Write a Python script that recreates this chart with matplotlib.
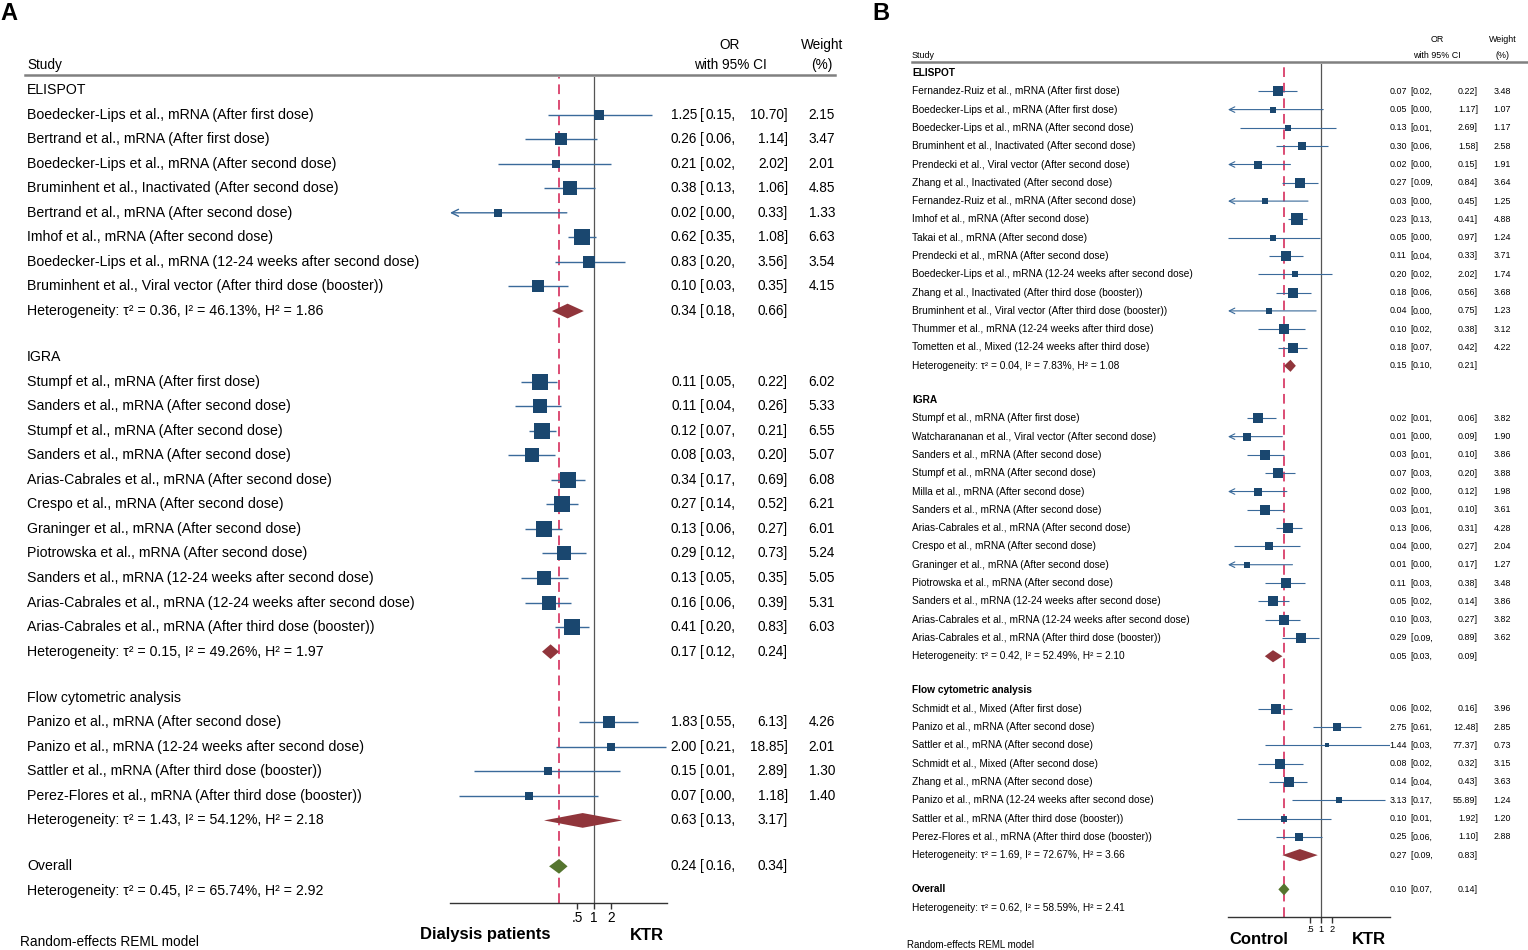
import numpy as np
import matplotlib.pyplot as plt
from matplotlib.lines import Line2D
from matplotlib.ticker import NullLocator
from matplotlib.transforms import blended_transform_factory

plt.rcParams['font.family'] = ['Liberation Sans', 'DejaVu Sans']

W, H = 1528, 950

# ---------------- Panel A: dialysis patients vs KTR ----------------
a_eli_names = ["Boedecker-Lips et al., mRNA (After first dose)",
               "Bertrand et al., mRNA (After first dose)",
               "Boedecker-Lips et al., mRNA (After second dose)",
               "Bruminhent et al., Inactivated (After second dose)",
               "Bertrand et al., mRNA (After second dose)",
               "Imhof et al., mRNA (After second dose)",
               "Boedecker-Lips et al., mRNA (12-24 weeks after second dose)",
               "Bruminhent et al., Viral vector (After third dose (booster))"]
a_eli_or = [1.25, 0.26, 0.21, 0.38, 0.02, 0.62, 0.83, 0.10]
a_eli_lo = [0.15, 0.06, 0.02, 0.13, 0.001, 0.35, 0.20, 0.03]
a_eli_hi = [10.70, 1.14, 2.02, 1.06, 0.33, 1.08, 3.56, 0.35]
a_eli_w = [2.15, 3.47, 2.01, 4.85, 1.33, 6.63, 3.54, 4.15]
a_eli_pool = [0.34, 0.18, 0.66]
a_eli_het = "τ² = 0.36, I² = 46.13%, H² = 1.86"

a_igra_names = ["Stumpf et al., mRNA (After first dose)",
                "Sanders et al., mRNA (After second dose)",
                "Stumpf et al., mRNA (After second dose)",
                "Sanders et al., mRNA (After second dose)",
                "Arias-Cabrales et al., mRNA (After second dose)",
                "Crespo et al., mRNA (After second dose)",
                "Graninger et al., mRNA (After second dose)",
                "Piotrowska et al., mRNA (After second dose)",
                "Sanders et al., mRNA (12-24 weeks after second dose)",
                "Arias-Cabrales et al., mRNA (12-24 weeks after second dose)",
                "Arias-Cabrales et al., mRNA (After third dose (booster))"]
a_igra_or = [0.11, 0.11, 0.12, 0.08, 0.34, 0.27, 0.13, 0.29, 0.13, 0.16, 0.41]
a_igra_lo = [0.05, 0.04, 0.07, 0.03, 0.17, 0.14, 0.06, 0.12, 0.05, 0.06, 0.20]
a_igra_hi = [0.22, 0.26, 0.21, 0.20, 0.69, 0.52, 0.27, 0.73, 0.35, 0.39, 0.83]
a_igra_w = [6.02, 5.33, 6.55, 5.07, 6.08, 6.21, 6.01, 5.24, 5.05, 5.31, 6.03]
a_igra_pool = [0.17, 0.12, 0.24]
a_igra_het = "τ² = 0.15, I² = 49.26%, H² = 1.97"

a_flow_names = ["Panizo et al., mRNA (After second dose)",
                "Panizo et al., mRNA (12-24 weeks after second dose)",
                "Sattler et al., mRNA (After third dose (booster))",
                "Perez-Flores et al., mRNA (After third dose (booster))"]
a_flow_or = [1.83, 2.00, 0.15, 0.07]
a_flow_lo = [0.55, 0.21, 0.0074, 0.004]
a_flow_hi = [6.13, 18.85, 2.89, 1.18]
a_flow_w = [4.26, 2.01, 1.30, 1.40]
a_flow_pool = [0.63, 0.13, 3.17]
a_flow_het = "τ² = 1.43, I² = 54.12%, H² = 2.18"

a_overall = [0.24, 0.16, 0.34]
a_overall_het = "τ² = 0.45, I² = 65.74%, H² = 2.92"

# ---------------- Panel B: control vs KTR ----------------
b_eli_names = ["Fernandez-Ruiz et al., mRNA (After first dose)",
               "Boedecker-Lips et al., mRNA (After first dose)",
               "Boedecker-Lips et al., mRNA (After second dose)",
               "Bruminhent et al., Inactivated (After second dose)",
               "Prendecki et al., Viral vector (After second dose)",
               "Zhang et al., Inactivated (After second dose)",
               "Fernandez-Ruiz et al., mRNA (After second dose)",
               "Imhof et al., mRNA (After second dose)",
               "Takai et al., mRNA (After second dose)",
               "Prendecki et al., mRNA (After second dose)",
               "Boedecker-Lips et al., mRNA (12-24 weeks after second dose)",
               "Zhang et al., Inactivated (After third dose (booster))",
               "Bruminhent et al., Viral vector (After third dose (booster))",
               "Thummer et al., mRNA (12-24 weeks after third dose)",
               "Tometten et al., Mixed (12-24 weeks after third dose)"]
b_eli_or = [0.07, 0.05, 0.13, 0.30, 0.02, 0.27, 0.03, 0.23, 0.05, 0.11, 0.20, 0.18, 0.04, 0.10, 0.18]
b_eli_lo = [0.02, 0.001, 0.0063, 0.06, 0.001, 0.09, 0.001, 0.13, 0.0030, 0.04, 0.02, 0.06, 0.001, 0.02, 0.07]
b_eli_hi = [0.22, 1.17, 2.69, 1.58, 0.15, 0.84, 0.45, 0.41, 0.97, 0.33, 2.02, 0.56, 0.75, 0.38, 0.42]
b_eli_w = [3.48, 1.07, 1.17, 2.58, 1.91, 3.64, 1.25, 4.88, 1.24, 3.71, 1.74, 3.68, 1.23, 3.12, 4.22]
b_eli_pool = [0.15, 0.10, 0.21]
b_eli_het = "τ² = 0.04, I² = 7.83%, H² = 1.08"

b_igra_names = ["Stumpf et al., mRNA (After first dose)",
                "Watcharananan et al., Viral vector (After second dose)",
                "Sanders et al., mRNA (After second dose)",
                "Stumpf et al., mRNA (After second dose)",
                "Milla et al., mRNA (After second dose)",
                "Sanders et al., mRNA (After second dose)",
                "Arias-Cabrales et al., mRNA (After second dose)",
                "Crespo et al., mRNA (After second dose)",
                "Graninger et al., mRNA (After second dose)",
                "Piotrowska et al., mRNA (After second dose)",
                "Sanders et al., mRNA (12-24 weeks after second dose)",
                "Arias-Cabrales et al., mRNA (12-24 weeks after second dose)",
                "Arias-Cabrales et al., mRNA (After third dose (booster))"]
b_igra_or = [0.02, 0.01, 0.03, 0.07, 0.02, 0.03, 0.13, 0.04, 0.01, 0.11, 0.05, 0.10, 0.29]
b_igra_lo = [0.01, 0.001, 0.01, 0.03, 0.001, 0.01, 0.06, 0.0043, 0.001, 0.03, 0.02, 0.03, 0.09]
b_igra_hi = [0.06, 0.09, 0.10, 0.20, 0.12, 0.10, 0.31, 0.27, 0.17, 0.38, 0.14, 0.27, 0.89]
b_igra_w = [3.82, 1.90, 3.86, 3.88, 1.98, 3.61, 4.28, 2.04, 1.27, 3.48, 3.86, 3.82, 3.62]
b_igra_pool = [0.05, 0.03, 0.09]
b_igra_het = "τ² = 0.42, I² = 52.49%, H² = 2.10"

b_flow_names = ["Schmidt et al., Mixed (After first dose)",
                "Panizo et al., mRNA (After second dose)",
                "Sattler et al., mRNA (After second dose)",
                "Schmidt et al., Mixed (After second dose)",
                "Zhang et al., mRNA (After second dose)",
                "Panizo et al., mRNA (12-24 weeks after second dose)",
                "Sattler et al., mRNA (After third dose (booster))",
                "Perez-Flores et al., mRNA (After third dose (booster))"]
b_flow_or = [0.06, 2.75, 1.44, 0.08, 0.14, 3.13, 0.10, 0.25]
b_flow_lo = [0.02, 0.61, 0.03, 0.02, 0.04, 0.17, 0.0052, 0.06]
b_flow_hi = [0.16, 12.48, 77.37, 0.32, 0.43, 55.89, 1.92, 1.10]
b_flow_w = [3.96, 2.85, 0.73, 3.15, 3.63, 1.24, 1.20, 2.88]
b_flow_pool = [0.27, 0.09, 0.83]
b_flow_het = "τ² = 1.69, I² = 72.67%, H² = 3.66"

b_overall = [0.10, 0.07, 0.14]
b_overall_het = "τ² = 0.62, I² = 58.59%, H² = 2.41"

group_titles = ["ELISPOT", "IGRA", "Flow cytometric analysis"]

SQ_COL = '#1a476f'
CI_COL = '#3a6a9a'
SUB_COL = '#90353b'
ALL_COL = '#55752f'
REF_COL = '#dc4c74'
GAP = 1.87


def fx(px):
    return px / W


def fy(py):
    return 1 - py / H


fig = plt.figure(figsize=(W / 100, H / 100), dpi=100)


def make_groups(prefix):
    g = globals()
    out = []
    for title, key in zip(group_titles, ['eli', 'igra', 'flow']):
        out.append(dict(title=title,
                        names=g[f'{prefix}_{key}_names'], est=g[f'{prefix}_{key}_or'],
                        lo=g[f'{prefix}_{key}_lo'], hi=g[f'{prefix}_{key}_hi'],
                        w=g[f'{prefix}_{key}_w'], pool=g[f'{prefix}_{key}_pool'],
                        het=g[f'{prefix}_{key}_het']))
    return out


def forest(groups, overall, overall_het, xlim, c):
    left, right, top, bottom = c['box']
    r0, step = c['rows']
    ax = fig.add_axes([fx(left), fy(bottom), (right - left) / W, (bottom - top) / H])
    ax.patch.set_alpha(0)
    ax.set_xscale('log')
    ax.set_xlim(*xlim)
    ax.set_ylim((bottom - r0) / step, (top - r0) / step)
    tr = blended_transform_factory(fig.transFigure, ax.transData)

    ax.axvline(1, color='#555555', lw=0.9, zorder=1)
    ax.axvline(overall[0], color=REF_COL, lw=1.4, ls=(0, (5, 3)), zorder=1)

    def label(y, s, bold=False):
        ax.text(fx(c['x_study']), y, s, transform=tr, ha='left', va='center',
                fontsize=c['fs'], fontweight='bold' if bold else 'normal')

    def ci_text(y, est, lo, hi, w=None):
        fs = c['fs_num']
        ax.text(fx(c['x_est']), y, f"{est:.2f}", transform=tr, ha='right', va='center', fontsize=fs)
        ax.text(fx(c['x_br']), y, "[", transform=tr, ha='left', va='center', fontsize=fs)
        ax.text(fx(c['x_lo']), y, f"{lo:.2f},", transform=tr, ha='right', va='center', fontsize=fs)
        ax.text(fx(c['x_hi']), y, f"{hi:.2f}]", transform=tr, ha='right', va='center', fontsize=fs)
        if w is not None:
            ax.text(fx(c['x_w']), y, f"{w:.2f}", transform=tr, ha='right', va='center', fontsize=fs)

    def diamond(y, est, lo, hi, col):
        h = c['dh']
        ax.fill([lo, est, hi, est], [y, y - h, y, y + h], color=col, lw=0, zorder=3)

    y = 0.0
    for g in groups:
        label(y, g['title'], c['bold_titles'])
        for name, est, lo, hi, w in zip(g['names'], g['est'], g['lo'], g['hi'], g['w']):
            y += 1
            label(y, name)
            if lo < xlim[0]:
                ax.annotate('', xy=(xlim[0], y), xytext=(hi, y),
                            arrowprops=dict(arrowstyle=c['arrow'], color=CI_COL, lw=c['lw'],
                                            shrinkA=0, shrinkB=0), zorder=2)
            else:
                ax.plot([lo, min(hi, xlim[1])], [y, y], color=CI_COL, lw=c['lw'], zorder=2,
                        solid_capstyle='butt')
            ax.plot(est, y, marker='s', ms=c['sq'] * np.sqrt(w) * 0.72, color=SQ_COL,
                    mec=SQ_COL, mew=0, zorder=4)
            ci_text(y, est, lo, hi, w)
        y += 1
        label(y, "Heterogeneity: " + g['het'])
        diamond(y, *g['pool'], SUB_COL)
        ci_text(y, *g['pool'])
        y += GAP
    label(y, "Overall", c['bold_titles'])
    diamond(y, *overall, ALL_COL)
    ci_text(y, *overall)
    label(y + 1, "Heterogeneity: " + overall_het)

    for s in ['top', 'left', 'right']:
        ax.spines[s].set_visible(False)
    ax.spines['bottom'].set_color('#333333')
    ax.spines['bottom'].set_linewidth(1.0)
    ax.set_yticks([])
    ax.set_xticks([0.5, 1, 2])
    ax.set_xticklabels(['.5', '1', '2'])
    ax.xaxis.set_minor_locator(NullLocator())
    ax.tick_params(axis='x', length=4, width=1, color='#333333', labelsize=c['fs_tick'], pad=1.5)

    # header
    hx0, hx1, hy = c['hline']
    fig.add_artist(Line2D([fx(hx0), fx(hx1)], [fy(hy), fy(hy)], color='#808080', lw=1.8))
    fs = c['fs_head']
    fig.text(fx(c['x_study']), fy(c['y_h2']), "Study", ha='left', va='center', fontsize=fs)
    fig.text(fx(c['x_orc']), fy(c['y_h1']), "OR", ha='center', va='center', fontsize=fs)
    fig.text(fx(c['x_orc']), fy(c['y_h2']), "with 95% CI", ha='center', va='center', fontsize=fs)
    fig.text(fx(c['x_wc']), fy(c['y_h1']), "Weight", ha='center', va='center', fontsize=fs)
    fig.text(fx(c['x_wc']), fy(c['y_h2']), "(%)", ha='center', va='center', fontsize=fs)
    return ax


cfg_a = dict(box=(450, 667, 77, 903), rows=(90, 24.56), x_study=27,
             x_est=697, x_br=700, x_lo=736, x_hi=788, x_w=835, x_orc=730, x_wc=822,
             fs=10.2, fs_num=9.8, fs_head=9.8, fs_tick=9.8, bold_titles=False,
             sq=6.2, dh=0.3, lw=1.0, arrow='->,head_length=0.5,head_width=0.25',
             hline=(25, 835, 75), y_h1=45, y_h2=65)
cfg_b = dict(box=(1228, 1390, 64, 917), rows=(73, 18.3), x_study=912,
             x_est=1407, x_br=1410, x_lo=1433, x_hi=1478, x_w=1511, x_orc=1437, x_wc=1503,
             fs=7.3, fs_num=6.4, fs_head=6.4, fs_tick=6.6, bold_titles=True,
             sq=5.2, dh=0.33, lw=0.8, arrow='->,head_length=0.4,head_width=0.2',
             hline=(912, 1528, 62), y_h1=40, y_h2=55)

forest(make_groups('a'), a_overall, a_overall_het, (0.0028, 19.7), cfg_a)
forest(make_groups('b'), b_overall, b_overall_het, (0.00297, 77.37), cfg_b)

fig.text(fx(0), fy(14), "A", ha='left', va='center', fontsize=17, fontweight='bold')
fig.text(fx(872), fy(14), "B", ha='left', va='center', fontsize=17, fontweight='bold')

fig.text(fx(20), fy(942), "Random-effects REML model", ha='left', va='center', fontsize=9.8)
fig.text(fx(485), fy(935), "Dialysis patients", ha='center', va='center', fontsize=12, fontweight='bold')
fig.text(fx(647), fy(935), "KTR", ha='center', va='center', fontsize=12, fontweight='bold')

fig.text(fx(907), fy(945), "Random-effects REML model", ha='left', va='center', fontsize=7)
fig.text(fx(1259), fy(940), "Control", ha='center', va='center', fontsize=12, fontweight='bold')
fig.text(fx(1369), fy(940), "KTR", ha='center', va='center', fontsize=12, fontweight='bold')

fig.savefig('out.png', dpi=100, facecolor='white')
